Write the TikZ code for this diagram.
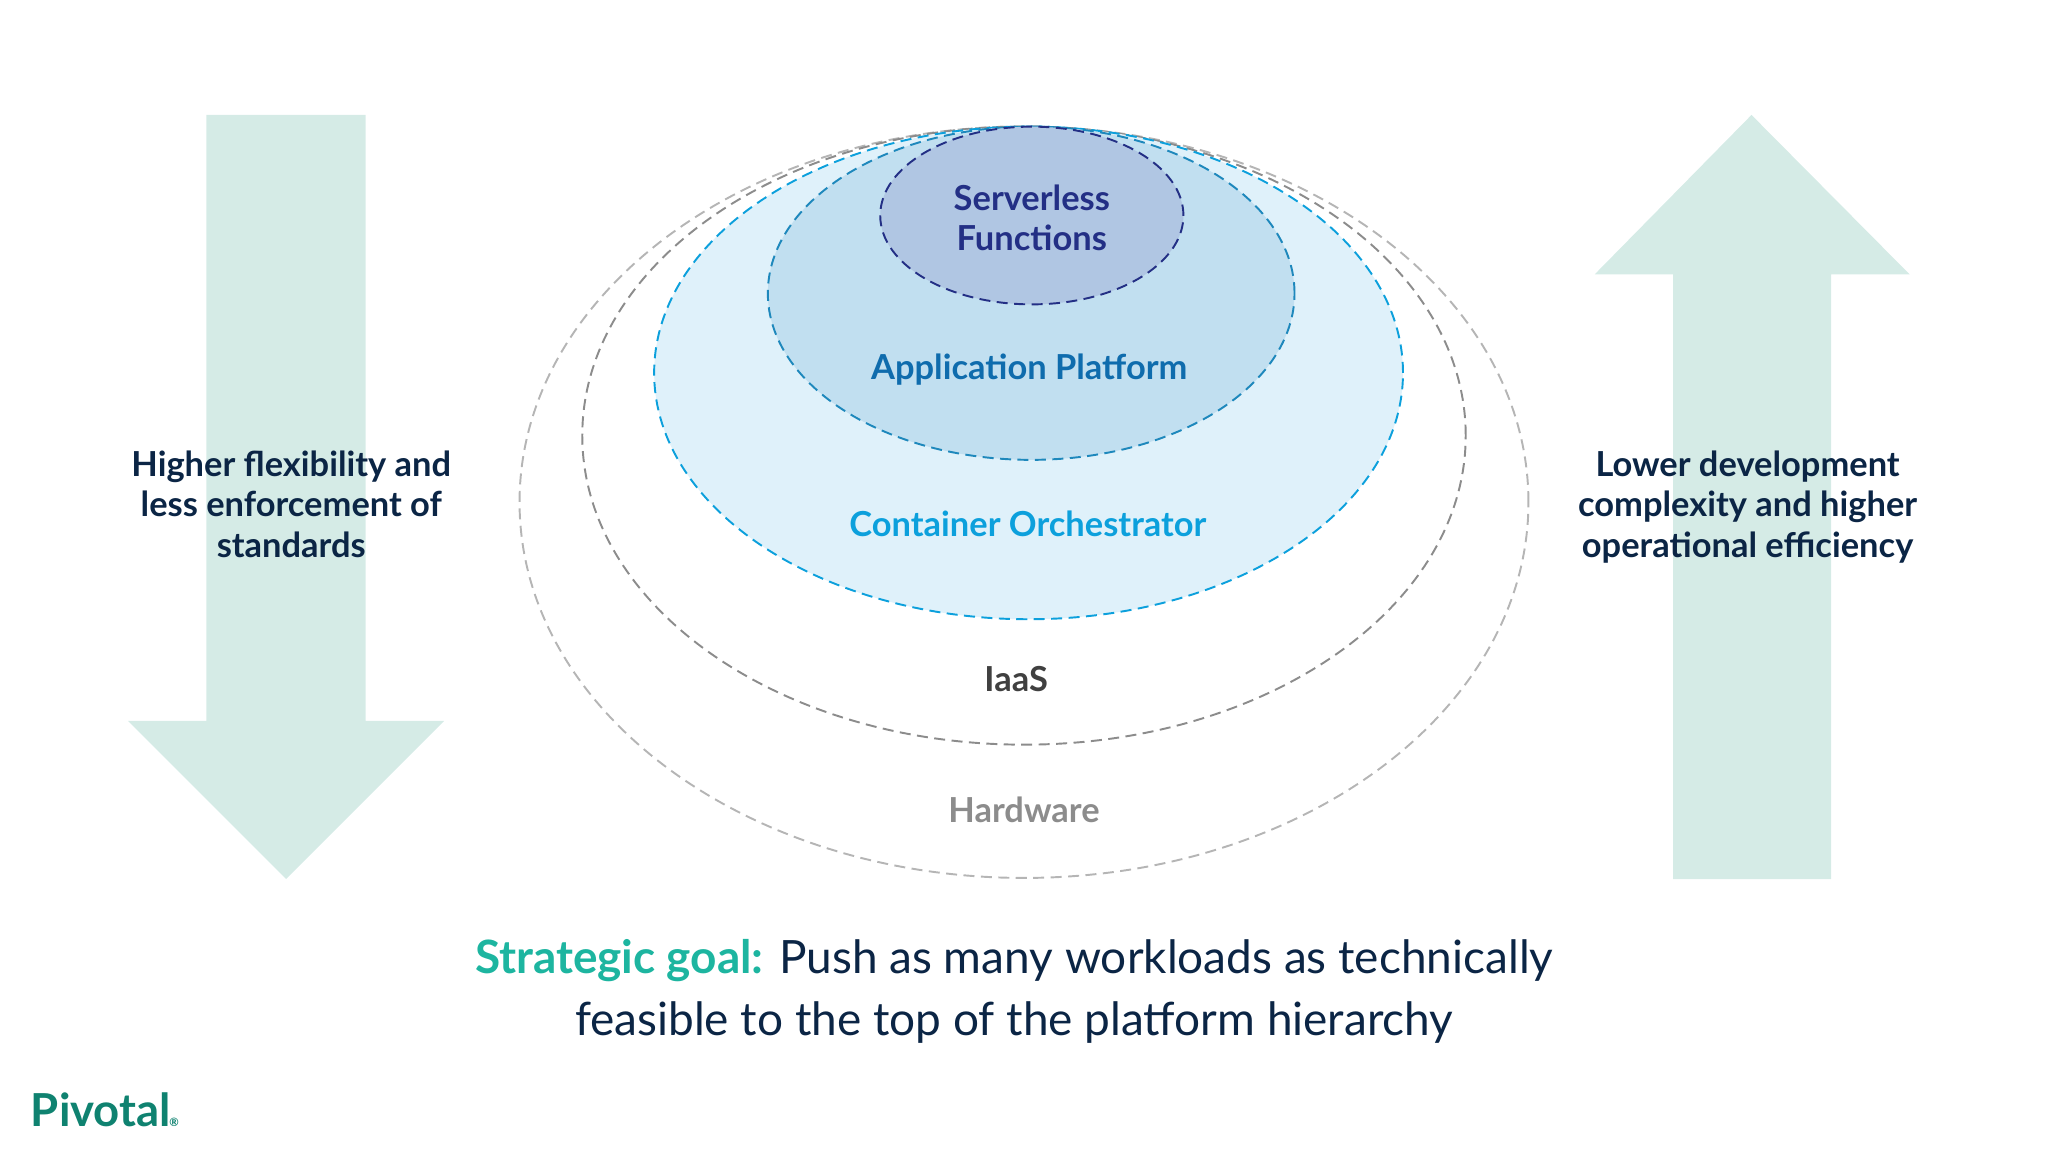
\documentclass[tikz,border=0pt]{standalone}
\usepackage{fontspec}
\setmainfont{Lato}
\usepackage{xcolor}
\usetikzlibrary{shapes.geometric}

\definecolor{arrowgreen}{HTML}{D5EBE6}
\definecolor{navytext}{HTML}{0B2545}
\definecolor{goalgreen}{HTML}{1DB5A0}
\definecolor{logogreen}{HTML}{0F8270}
\definecolor{hwgray}{HTML}{B5B5B5}
\definecolor{iaasgray}{HTML}{8C8C8C}
\definecolor{contblue}{HTML}{0CA0DC}
\definecolor{contfill}{HTML}{DFF1FA}
\definecolor{appblue}{HTML}{1E88BC}
\definecolor{apptext}{HTML}{0F6CAD}
\definecolor{appfill}{HTML}{C1DFF0}
\definecolor{funcblue}{HTML}{232F85}
\definecolor{funcfill}{HTML}{B0C6E3}

\tikzset{
  layer/.style={ellipse, inner sep=0pt, line width=0.42pt, dash pattern=on 2.4pt off 1.4pt},
  layertext/.style={font=\fontsize{7.5}{8.8}\selectfont\bfseries, align=center},
  sidetext/.style={font=\fontsize{7.5}{8.8}\selectfont\bfseries, align=center, text=navytext},
  goaltext/.style={font=\fontsize{10}{13.4}\selectfont, align=center, text=navytext},
}

\begin{document}
\begin{tikzpicture}[x=0.01cm, y=-0.01cm]
    \useasboundingbox (0,0) rectangle (1568,882);

    \fill[arrowgreen] (158,88) -- (280,88) -- (280,552) -- (340,552) -- (219,673) -- (98,552) -- (158,552) -- cycle;
    \fill[arrowgreen] (1341,88) -- (1462,210) -- (1402,210) -- (1402,673) -- (1281,673) -- (1281,210) -- (1221,210) -- cycle;

    \node[layer, draw=hwgray, minimum width=7.72cm, minimum height=5.75cm] (hardware) at (784,384.5) {};
    \node[layer, draw=iaasgray, minimum width=6.76cm, minimum height=4.73cm] (iaas) at (784,333.5) {};
    \node[layer, draw=contblue, fill=contfill, minimum width=5.73cm, minimum height=3.77cm] (cont) at (787.5,285.5) {};
    \node[layer, draw=appblue, fill=appfill, minimum width=4.03cm, minimum height=2.55cm] (app) at (789.5,224.5) {};
    \node[layer, draw=funcblue, fill=funcfill, minimum width=2.32cm, minimum height=1.36cm] (func) at (790,165) {};

    \node[layertext, text=funcblue] (funclabel) at (790,167) {Serverless\\Functions};
    \node[layertext, text=apptext] (applabel) at (788,283) {Application Platform};
    \node[layertext, text=contblue] (contlabel) at (787,401) {Container Orchestrator};
    \node[layertext, text=black!75] (iaaslabel) at (778,520) {IaaS};
    \node[layertext, text=black!45] (hwlabel) at (784,620) {Hardware};

    \node[sidetext] (leftlabel) at (223,386) {Higher flexibility and\\less enforcement of\\standards};
    \node[sidetext] (rightlabel) at (1338,388) {Lower development\\complexity and higher\\operational efficiency};

    \node[goaltext] (goal) at (776.5,759) {{\bfseries\color{goalgreen}Strategic goal:} Push as many workloads as technically\\feasible to the top of the platform hierarchy};

    \node[font=\fontsize{9.9}{12}\selectfont\bfseries, text=logogreen, anchor=west, inner sep=0pt] (logo) at (23,850) {Pivotal\kern-0.3pt{\fontsize{2.5}{3}\selectfont ®}};
  \end{tikzpicture}
\end{document}
